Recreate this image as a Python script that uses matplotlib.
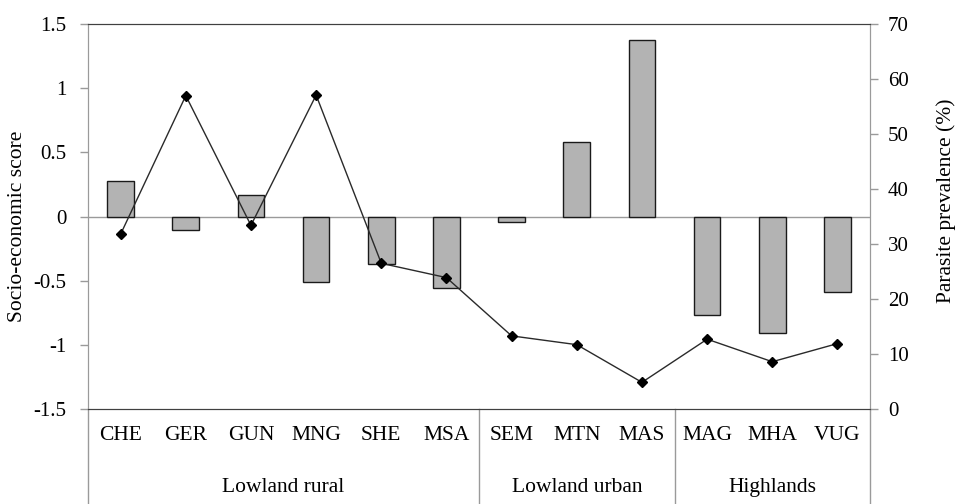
import numpy as np
import matplotlib
matplotlib.use('Agg')
import matplotlib.pyplot as plt
from matplotlib.ticker import FormatStrFormatter

plt.rcParams['font.family'] = ['Liberation Serif', 'DejaVu Serif']

# ── Data ─────────────────────────────────────────────────────────────────────
sites = ['CHE', 'GER', 'GUN', 'MNG', 'SHE', 'MSA',
         'SEM', 'MTN', 'MAS', 'MAG', 'MHA', 'VUG']
groups = ['Lowland rural', 'Lowland urban', 'Highlands']
group_sizes = [6, 3, 3]
ses_score = [0.28, -0.105, 0.17, -0.51, -0.37, -0.56,
             -0.04, 0.58, 1.38, -0.77, -0.905, -0.59]
prevalence = [31.8, 57.0, 33.4, 57.1, 26.5, 23.9,
              13.3, 11.7, 4.85, 12.7, 8.6, 11.9]

GRID = '#9a9a9a'
DARK = '#404040'
FS = 15.5

fig = plt.figure(figsize=(9.58, 5.04), dpi=100)
ax = fig.add_axes([0.0919, 0.1885, 0.8163, 0.7635])
x = np.arange(len(sites))

ax.bar(x, ses_score, width=0.41, color='#b3b3b3', edgecolor='#1a1a1a',
       linewidth=1.0, zorder=2)
ax.axhline(0, color=GRID, lw=1.0, zorder=1)
ax.set_xlim(-0.5, len(sites) - 0.5)
ax.set_ylim(-1.5, 1.5)
ax.set_yticks(np.arange(-1.5, 1.51, 0.5))
ax.yaxis.set_major_formatter(FormatStrFormatter('%g'))
ax.set_ylabel('Socio-economic score', fontsize=FS)
ax.yaxis.set_label_coords(-0.078, 0.475)

ax2 = ax.twinx()
ax2.plot(x, prevalence, color='#2a2a2a', lw=1.0, marker='D', markersize=5,
         markerfacecolor='black', markeredgecolor='black', zorder=3)
ax2.set_ylim(0, 70)
ax2.set_yticks(np.arange(0, 71, 10))
ax2.set_ylabel('Parasite prevalence (%)', fontsize=FS)
ax2.yaxis.set_label_coords(1.085, 0.54)

for a in (ax, ax2):
    a.spines['top'].set_color(DARK)
    a.spines['bottom'].set_color(DARK)
    a.spines['left'].set_color(GRID)
    a.spines['right'].set_color(GRID)
ax.tick_params(axis='y', labelsize=15, color=GRID, length=5.5, width=1,
               direction='out', pad=10)
ax2.tick_params(axis='y', labelsize=15, color=GRID, length=5.5, width=1,
                direction='out', pad=7.5)

ax.set_xticks([])
ax2.set_xticks([])

# category labels and group labels under the axis
trans = ax.get_xaxis_transform()
for xi, s in zip(x, sites):
    ax.text(xi, -0.068, s, transform=trans, ha='center', va='center',
            fontsize=FS)
edges = np.concatenate([[0], np.cumsum(group_sizes)]) - 0.5
for i, g in enumerate(groups):
    mid = (edges[i] + edges[i + 1]) / 2
    ax.text(mid, -0.203, g, transform=trans, ha='center', va='center',
            fontsize=FS)
for e in edges:
    ax.plot([e, e], [0, -0.25], transform=trans, color=GRID, lw=1.0,
            clip_on=False)

fig.savefig('out.png', dpi=100)
